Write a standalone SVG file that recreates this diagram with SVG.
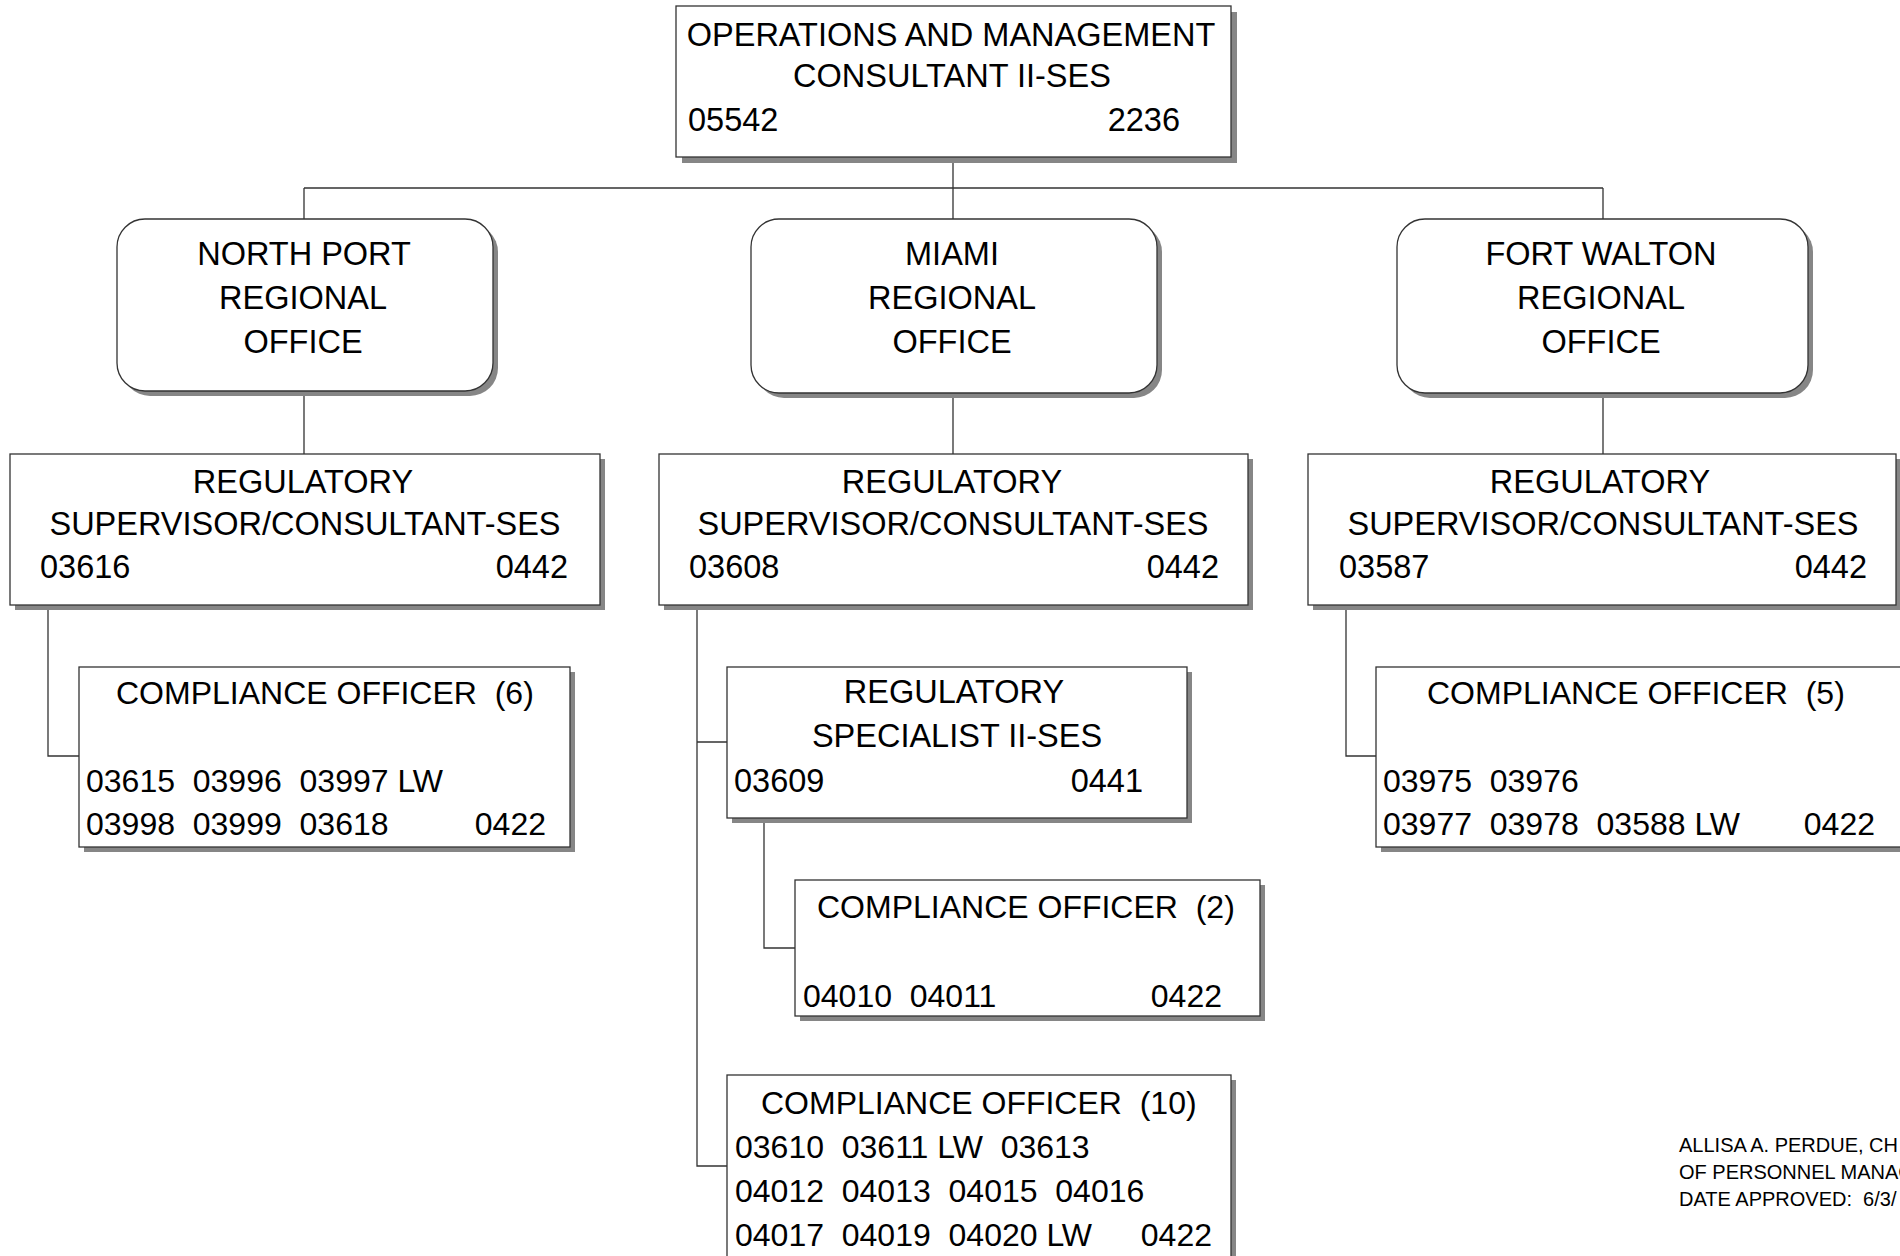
<svg xmlns="http://www.w3.org/2000/svg" width="1900" height="1256" viewBox="0 0 1900 1256">
<style>
.bg{fill:#fff}
.box{fill:#fff;stroke:#333;stroke-width:1.3}
.shd{fill:#868686}
.t{font-family:"Liberation Sans",Arial,sans-serif;font-size:32.5px;fill:#000}
.s{font-size:32px}
.c{text-anchor:middle}
.e{text-anchor:end}
.sig{font-size:20px}
#connectors path{stroke:#333;stroke-width:1.3;fill:none}
</style>
<rect class="bg" x="0" y="0" width="1900" height="1256"/>

<g id="connectors">
<path d="M953 157V188M304 188H1603M304 188V219M953 188V219M1603 188V219"/>
<path d="M304 391V454M953 393V454M1603 393V454"/>
<path d="M48 605V756H79"/>
<path d="M697 605V1166H727M697 742H727"/>
<path d="M764 818V948H795"/>
<path d="M1346 605V756H1376"/>
</g>

<g id="top">
<rect class="shd" x="682" y="12" width="555" height="151"/>
<rect class="box" x="676" y="6" width="555" height="151"/>
<text class="t c" x="951" y="46">OPERATIONS AND MANAGEMENT</text>
<text class="t c" x="952" y="87">CONSULTANT II-SES</text>
<text class="t" x="688" y="131">05542</text>
<text class="t e" x="1180" y="131">2236</text>
</g>

<g id="northport">
<rect class="shd" x="122" y="224" width="376" height="172" rx="28"/>
<rect class="box" x="117" y="219" width="376" height="172" rx="28"/>
<text class="t c" x="304" y="265">NORTH PORT</text>
<text class="t c" x="303" y="309">REGIONAL</text>
<text class="t c" x="303" y="353">OFFICE</text>
</g>

<g id="miami">
<rect class="shd" x="756" y="224" width="406" height="174" rx="28"/>
<rect class="box" x="751" y="219" width="406" height="174" rx="28"/>
<text class="t c" x="952" y="265">MIAMI</text>
<text class="t c" x="952" y="309">REGIONAL</text>
<text class="t c" x="952" y="353">OFFICE</text>
</g>

<g id="fortwalton">
<rect class="shd" x="1402" y="224" width="411" height="174" rx="28"/>
<rect class="box" x="1397" y="219" width="411" height="174" rx="28"/>
<text class="t c" x="1601" y="265">FORT WALTON</text>
<text class="t c" x="1601" y="309">REGIONAL</text>
<text class="t c" x="1601" y="353">OFFICE</text>
</g>

<g id="regsup-np">
<rect class="shd" x="15" y="459" width="590" height="151"/>
<rect class="box" x="10" y="454" width="590" height="151"/>
<text class="t c" x="303" y="493">REGULATORY</text>
<text class="t c" x="305" y="535">SUPERVISOR/CONSULTANT-SES</text>
<text class="t" x="40" y="578">03616</text>
<text class="t e" x="568" y="578">0442</text>
</g>

<g id="regsup-mi">
<rect class="shd" x="664" y="459" width="589" height="151"/>
<rect class="box" x="659" y="454" width="589" height="151"/>
<text class="t c" x="952" y="493">REGULATORY</text>
<text class="t c" x="953" y="535">SUPERVISOR/CONSULTANT-SES</text>
<text class="t" x="689" y="578">03608</text>
<text class="t e" x="1219" y="578">0442</text>
</g>

<g id="regsup-fw">
<rect class="shd" x="1313" y="459" width="588" height="151"/>
<rect class="box" x="1308" y="454" width="588" height="151"/>
<text class="t c" x="1600" y="493">REGULATORY</text>
<text class="t c" x="1603" y="535">SUPERVISOR/CONSULTANT-SES</text>
<text class="t" x="1339" y="578">03587</text>
<text class="t e" x="1867" y="578">0442</text>
</g>

<g id="co-np">
<rect class="shd" x="84" y="672" width="491" height="180"/>
<rect class="box" x="79" y="667" width="491" height="180"/>
<text class="t s" x="116" y="704" xml:space="preserve">COMPLIANCE OFFICER  (6)</text>
<text class="t s" x="86" y="792" xml:space="preserve">03615  03996  03997 LW</text>
<text class="t s" x="86" y="835" xml:space="preserve">03998  03999  03618</text>
<text class="t s e" x="546" y="835">0422</text>
</g>

<g id="regspec-mi">
<rect class="shd" x="732" y="672" width="460" height="151"/>
<rect class="box" x="727" y="667" width="460" height="151"/>
<text class="t c" x="954" y="703">REGULATORY</text>
<text class="t c" x="957" y="747">SPECIALIST II-SES</text>
<text class="t" x="734" y="792">03609</text>
<text class="t e" x="1143" y="792">0441</text>
</g>

<g id="co-mi-2">
<rect class="shd" x="800" y="885" width="465" height="136"/>
<rect class="box" x="795" y="880" width="465" height="136"/>
<text class="t s" x="817" y="918" xml:space="preserve">COMPLIANCE OFFICER  (2)</text>
<text class="t s" x="803" y="1007" xml:space="preserve">04010  04011</text>
<text class="t s e" x="1222" y="1007">0422</text>
</g>

<g id="co-mi-10">
<rect class="shd" x="732" y="1080" width="504" height="200"/>
<rect class="box" x="727" y="1075" width="504" height="200"/>
<text class="t s" x="761" y="1114" xml:space="preserve">COMPLIANCE OFFICER  (10)</text>
<text class="t s" x="735" y="1158" xml:space="preserve">03610  03611 LW  03613</text>
<text class="t s" x="735" y="1202" xml:space="preserve">04012  04013  04015  04016</text>
<text class="t s" x="735" y="1246" xml:space="preserve">04017  04019  04020 LW</text>
<text class="t s e" x="1212" y="1246">0422</text>
</g>

<g id="co-fw">
<rect class="shd" x="1381" y="672" width="530" height="180"/>
<rect class="box" x="1376" y="667" width="530" height="180"/>
<text class="t s" x="1427" y="704" xml:space="preserve">COMPLIANCE OFFICER  (5)</text>
<text class="t s" x="1383" y="792" xml:space="preserve">03975  03976</text>
<text class="t s" x="1383" y="835" xml:space="preserve">03977  03978  03588 LW</text>
<text class="t s e" x="1875" y="835">0422</text>
</g>

<g id="signature">
<text class="t sig" x="1679" y="1152">ALLISA A. PERDUE, CH</text>
<text class="t sig" x="1679" y="1179">OF PERSONNEL MANAG</text>
<text class="t sig" x="1679" y="1206" xml:space="preserve">DATE APPROVED:  6/3/</text>
</g>
</svg>
